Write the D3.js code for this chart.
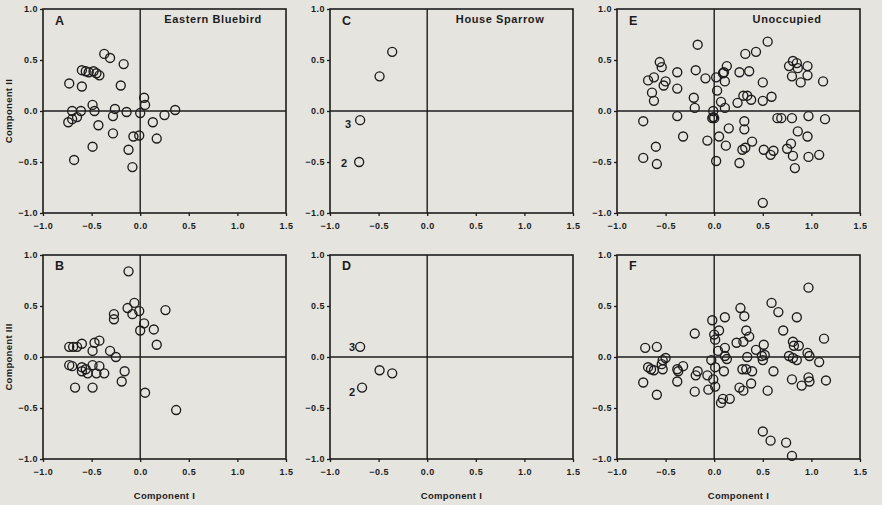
<!DOCTYPE html>
<html>
<head>
<meta charset="utf-8">
<script src="https://cdn.jsdelivr.net/npm/d3@7"></script>
<style>
  body { margin: 0; background: #e6e4df; }
  svg { display: block; }
  text { font-family: "Liberation Sans", Arial, sans-serif; font-weight: bold; fill: #1c1c1c; }
</style>
</head>
<body>
<svg id="chart" width="882" height="505"></svg>
<script>
// component I / component II (top row) and component I / component III (bottom row)
var bluebirdII = [
  [-0.37,0.56],[-0.31,0.52],[-0.17,0.46],[-0.60,0.40],[-0.56,0.39],[-0.53,0.38],[-0.48,0.39],
  [-0.45,0.37],[-0.42,0.35],[-0.73,0.27],[-0.60,0.24],[-0.20,0.25],[0.04,0.13],[0.05,0.06],
  [-0.49,0.06],[-0.70,0.00],[-0.61,0.00],[-0.47,0.00],[-0.26,0.02],[-0.14,-0.01],[0.00,-0.02],
  [0.25,-0.04],[0.36,0.01],[-0.28,-0.05],[-0.74,-0.11],[-0.70,-0.08],[-0.65,-0.06],[-0.43,-0.14],
  [0.13,-0.11],[-0.28,-0.22],[-0.07,-0.25],[-0.01,-0.24],[0.17,-0.27],[-0.49,-0.35],[-0.12,-0.38],
  [-0.68,-0.48],[-0.08,-0.55]
];
var sparrowII = [[-0.36,0.58],[-0.49,0.34],[-0.69,-0.09],[-0.70,-0.50]];
var sparrowIILabels = ["", "", "3", "2"];
var unoccupiedII = [
  [-0.17,0.65],[0.55,0.68],[0.32,0.56],[0.43,0.58],[-0.56,0.48],[-0.54,0.43],[-0.38,0.38],
  [-0.19,0.40],[-0.09,0.32],[-0.68,0.30],[-0.62,0.33],[-0.50,0.29],[-0.52,0.25],[-0.64,0.18],
  [-0.62,0.10],[-0.38,0.22],[-0.21,0.13],[-0.20,0.03],[0.02,0.33],[0.09,0.37],[0.10,0.38],
  [0.13,0.44],[0.11,0.29],[0.03,0.20],[0.07,0.09],[0.11,0.03],[-0.01,0.00],[-0.02,-0.07],
  [0.00,-0.07],[-0.01,-0.06],[0.26,0.38],[0.36,0.39],[0.50,0.28],[0.24,0.08],[0.30,0.15],
  [0.34,0.15],[0.38,0.11],[0.50,0.10],[0.59,0.14],[0.77,0.44],[0.81,0.49],[0.85,0.47],
  [0.86,0.42],[0.96,0.44],[0.80,0.34],[0.89,0.28],[0.96,0.35],[1.12,0.29],[-0.73,-0.10],
  [-0.38,-0.05],[-0.32,-0.25],[-0.60,-0.35],[-0.73,-0.46],[-0.59,-0.52],[-0.07,-0.29],
  [0.05,-0.25],[0.12,-0.34],[0.15,-0.17],[0.02,-0.49],[0.31,-0.10],[0.31,-0.18],[0.29,-0.38],
  [0.32,-0.36],[0.39,-0.30],[0.26,-0.51],[0.51,-0.38],[0.58,-0.43],[0.61,-0.39],[0.65,-0.07],
  [0.69,-0.07],[0.80,-0.07],[0.97,-0.05],[1.14,-0.08],[0.86,-0.20],[0.96,-0.25],[0.75,-0.37],
  [0.79,-0.32],[0.81,-0.44],[0.83,-0.56],[0.97,-0.45],[1.08,-0.43],[0.50,-0.90]
];
var bluebirdIII = [
  [-0.12,0.84],[-0.06,0.53],[-0.13,0.48],[-0.08,0.42],[-0.01,0.45],[-0.27,0.42],[-0.27,0.37],
  [0.04,0.33],[0.26,0.46],[0.00,0.26],[0.14,0.27],[0.17,0.12],[-0.73,0.10],[-0.69,0.10],
  [-0.65,0.10],[-0.60,0.13],[-0.47,0.14],[-0.42,0.16],[-0.49,0.06],[-0.31,0.06],[-0.25,0.00],
  [-0.73,-0.08],[-0.70,-0.09],[-0.60,-0.10],[-0.60,-0.14],[-0.56,-0.12],[-0.54,-0.16],
  [-0.49,-0.08],[-0.45,-0.16],[-0.42,-0.09],[-0.37,-0.16],[-0.16,-0.14],[-0.19,-0.24],
  [-0.67,-0.30],[-0.49,-0.30],[0.05,-0.35],[0.37,-0.52]
];
var sparrowIII = [[-0.69,0.10],[-0.49,-0.13],[-0.36,-0.16],[-0.67,-0.30]];
var sparrowIIILabels = ["3", "", "", "2"];
var unoccupiedIII = [
  [0.97,0.68],[0.59,0.53],[0.66,0.44],[0.85,0.39],[0.27,0.48],[0.31,0.40],[0.11,0.39],
  [-0.02,0.36],[0.05,0.26],[0.00,0.22],[0.01,0.17],[0.33,0.26],[0.36,0.20],[0.23,0.14],
  [0.30,0.15],[-0.20,0.23],[0.71,0.26],[1.13,0.18],[0.81,0.15],[0.82,0.11],[0.87,0.11],
  [0.51,0.12],[0.43,0.07],[0.11,0.09],[0.04,0.06],[0.11,0.01],[0.13,-0.02],[0.34,0.00],
  [0.49,0.01],[0.52,0.02],[0.50,-0.03],[0.77,0.01],[0.81,-0.01],[0.85,-0.03],[0.96,0.04],
  [0.98,0.01],[1.08,-0.05],[-0.71,0.09],[-0.59,0.10],[-0.50,-0.01],[-0.53,-0.03],[-0.68,-0.10],
  [-0.65,-0.12],[-0.62,-0.13],[-0.54,-0.07],[-0.53,-0.12],[-0.38,-0.12],[-0.37,-0.14],
  [-0.32,-0.09],[-0.38,-0.24],[-0.73,-0.25],[-0.59,-0.37],[-0.17,-0.14],[-0.19,-0.18],
  [-0.07,-0.18],[-0.03,-0.03],[0.01,-0.10],[-0.01,-0.22],[0.01,-0.29],[-0.06,-0.32],
  [-0.20,-0.34],[0.10,-0.14],[0.09,-0.41],[0.07,-0.45],[0.16,-0.41],[0.26,-0.30],[0.30,-0.33],
  [0.29,-0.12],[0.33,-0.12],[0.39,-0.14],[0.38,-0.26],[0.61,-0.14],[0.55,-0.33],[0.80,-0.22],
  [0.90,-0.28],[0.97,-0.20],[0.98,-0.24],[1.15,-0.23],[0.50,-0.73],[0.58,-0.82],[0.74,-0.84],
  [0.80,-0.97]
];

var xTicks = [-1.0, -0.5, 0.0, 0.5, 1.0, 1.5];
var yTicks = [-1.0, -0.5, 0.0, 0.5, 1.0];

var svg = d3.select("#chart");

var colLeft = [43, 330, 617],
    plotW = 243,
    rowTop = [9, 255],
    plotH = 204;

// label offsets (px) for the numbered sparrow points
var panels = [
  {col: 0, row: 0, letter: "A", title: "Eastern Bluebird", data: bluebirdII},
  {col: 1, row: 0, letter: "C", title: "House Sparrow", data: sparrowII, labels: sparrowIILabels,
    offs: [[0,0],[0,0],[-9,8],[-12,5]]},
  {col: 2, row: 0, letter: "E", title: "Unoccupied", data: unoccupiedII},
  {col: 0, row: 1, letter: "B", title: "", data: bluebirdIII},
  {col: 1, row: 1, letter: "D", title: "", data: sparrowIII, labels: sparrowIIILabels,
    offs: [[-5,4],[0,0],[0,0],[-7,8]]},
  {col: 2, row: 1, letter: "F", title: "", data: unoccupiedIII}
];

var fmt = d3.format(".1f");

panels.forEach(function(p) {
  var x0 = colLeft[p.col], y0 = rowTop[p.row];
  var g = svg.append("g").attr("transform", "translate(" + x0 + "," + y0 + ")");

  var x = d3.scaleLinear().domain([-1, 1.5]).range([0, plotW]);
  var y = d3.scaleLinear().domain([-1, 1]).range([plotH, 0]);

  // axes
  var xAxis = g.append("g")
    .attr("transform", "translate(0," + plotH + ")")
    .call(d3.axisBottom(x).tickValues(xTicks).tickFormat(fmt).tickSize(3).tickPadding(7));
  var yAxis = g.append("g")
    .call(d3.axisLeft(y).tickValues(yTicks).tickFormat(fmt).tickSize(3).tickPadding(2));
  [xAxis, yAxis].forEach(function(a) {
    a.select(".domain").remove();
    a.selectAll("line").attr("stroke", "#1c1c1c").attr("stroke-width", 1.3);
    a.selectAll("text").style("font-size", "9px").style("font-family", "Liberation Sans, Arial, sans-serif")
      .style("font-weight", "bold").style("letter-spacing", "0.5px").attr("fill", "#1c1c1c");
  });

  // frame
  g.append("rect")
    .attr("x", 0).attr("y", 0).attr("width", plotW).attr("height", plotH)
    .attr("fill", "none").attr("stroke", "#1c1c1c").attr("stroke-width", 1.6);

  // zero lines
  g.append("line")
    .attr("x1", x(0)).attr("x2", x(0)).attr("y1", 0).attr("y2", plotH)
    .attr("stroke", "#1c1c1c").attr("stroke-width", 1.4);
  g.append("line")
    .attr("x1", 0).attr("x2", plotW).attr("y1", y(0)).attr("y2", y(0))
    .attr("stroke", "#1c1c1c").attr("stroke-width", 1.4);

  // points
  g.append("g").selectAll("circle")
    .data(p.data)
    .enter()
    .append("circle")
    .attr("cx", function(d) { return x(d[0]); })
    .attr("cy", function(d) { return y(d[1]); })
    .attr("r", 4.5)
    .attr("fill", "none")
    .attr("stroke", "#1c1c1c")
    .attr("stroke-width", 1.35);

  // point labels (House Sparrow)
  if (p.labels) {
    g.append("g").selectAll("text")
      .data(p.data)
      .enter()
      .append("text")
      .attr("x", function(d, i) { return x(d[0]) + p.offs[i][0]; })
      .attr("y", function(d, i) { return y(d[1]) + p.offs[i][1]; })
      .attr("text-anchor", "end")
      .style("font-size", "11px")
      .text(function(d, i) { return p.labels[i]; });
  }

  // panel letter
  g.append("text")
    .attr("x", 12).attr("y", p.row === 0 ? 16 : 15)
    .style("font-size", "12.5px")
    .text(p.letter);

  // panel title
  if (p.title) {
    g.append("text")
      .attr("x", x(0.75)).attr("y", 14)
      .attr("text-anchor", "middle")
      .style("font-size", "11px")
      .style("letter-spacing", "0.6px")
      .text(p.title);
  }

  // x title bottom row
  if (p.row === 1) {
    g.append("text")
      .attr("x", plotW / 2).attr("y", plotH + 40)
      .attr("text-anchor", "middle")
      .style("font-size", "9.5px")
      .style("letter-spacing", "0.3px")
      .text("Component I");
  }
});

// y titles
svg.append("text")
  .attr("transform", "translate(12," + (rowTop[0] + plotH / 2) + ") rotate(-90)")
  .attr("text-anchor", "middle")
  .style("font-size", "9.5px")
  .style("letter-spacing", "0.3px")
  .text("Component II");
svg.append("text")
  .attr("transform", "translate(12," + (rowTop[1] + plotH / 2) + ") rotate(-90)")
  .attr("text-anchor", "middle")
  .style("font-size", "9.5px")
  .style("letter-spacing", "0.3px")
  .text("Component III");
</script>
</body>
</html>
